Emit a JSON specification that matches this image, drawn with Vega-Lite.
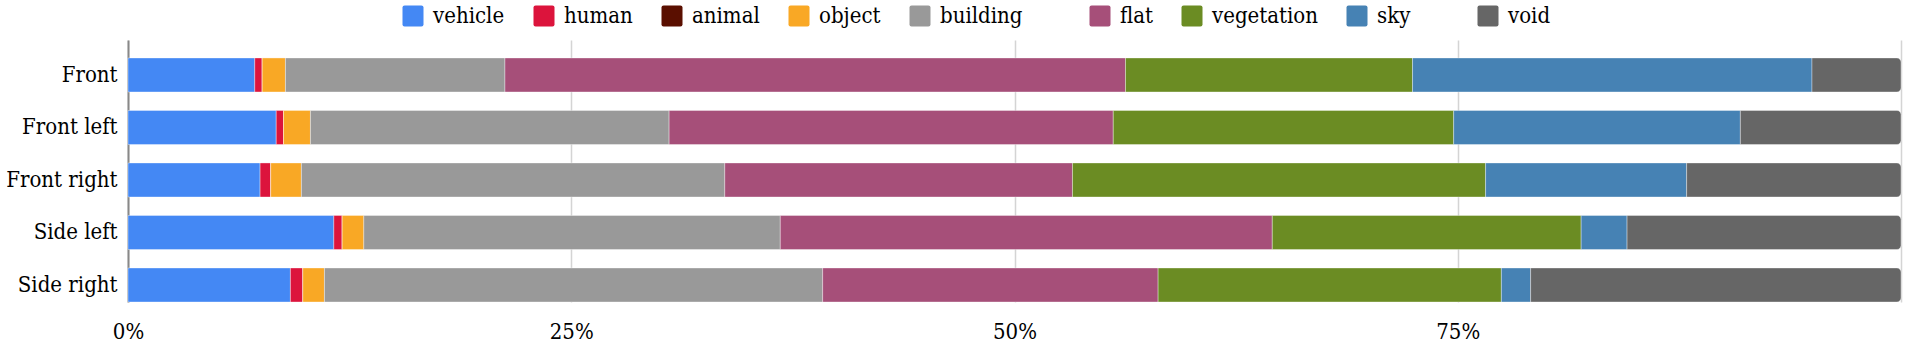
{
  "$schema": "https://vega.github.io/schema/vega-lite/v6.json",
  "width": 1773,
  "height": 262,
  "autosize": {"type": "none"},
  "padding": {"left": 128, "top": 40, "right": 4, "bottom": 41},
  "background": "white",
  "config": {
    "font": "DejaVu Serif Condensed, DejaVu Serif",
    "view": {"stroke": null},
    "axis": {"labelFont": "DejaVu Serif Condensed, DejaVu Serif", "labelFontSize": 22, "labelColor": "#000000"},
    "legend": {"labelFont": "DejaVu Serif Condensed, DejaVu Serif", "labelFontSize": 22, "labelColor": "#000000"}
  },
  "data": {
    "values": [
      {"view": "Front", "class": "vehicle", "value": 7.15},
      {"view": "Front", "class": "human", "value": 0.42},
      {"view": "Front", "class": "animal", "value": 0},
      {"view": "Front", "class": "object", "value": 1.31},
      {"view": "Front", "class": "building", "value": 12.38},
      {"view": "Front", "class": "flat", "value": 35.0},
      {"view": "Front", "class": "vegetation", "value": 16.19},
      {"view": "Front", "class": "sky", "value": 22.53},
      {"view": "Front", "class": "void", "value": 5.02},
      {"view": "Front left", "class": "vehicle", "value": 8.36},
      {"view": "Front left", "class": "human", "value": 0.41},
      {"view": "Front left", "class": "animal", "value": 0},
      {"view": "Front left", "class": "object", "value": 1.52},
      {"view": "Front left", "class": "building", "value": 20.23},
      {"view": "Front left", "class": "flat", "value": 25.05},
      {"view": "Front left", "class": "vegetation", "value": 19.2},
      {"view": "Front left", "class": "sky", "value": 16.17},
      {"view": "Front left", "class": "void", "value": 9.06},
      {"view": "Front right", "class": "vehicle", "value": 7.45},
      {"view": "Front right", "class": "human", "value": 0.6},
      {"view": "Front right", "class": "animal", "value": 0},
      {"view": "Front right", "class": "object", "value": 1.73},
      {"view": "Front right", "class": "building", "value": 23.88},
      {"view": "Front right", "class": "flat", "value": 19.61},
      {"view": "Front right", "class": "vegetation", "value": 23.3},
      {"view": "Front right", "class": "sky", "value": 11.34},
      {"view": "Front right", "class": "void", "value": 12.09},
      {"view": "Side left", "class": "vehicle", "value": 11.61},
      {"view": "Side left", "class": "human", "value": 0.47},
      {"view": "Side left", "class": "animal", "value": 0},
      {"view": "Side left", "class": "object", "value": 1.22},
      {"view": "Side left", "class": "building", "value": 23.49},
      {"view": "Side left", "class": "flat", "value": 27.75},
      {"view": "Side left", "class": "vegetation", "value": 17.42},
      {"view": "Side left", "class": "sky", "value": 2.59},
      {"view": "Side left", "class": "void", "value": 15.45},
      {"view": "Side right", "class": "vehicle", "value": 9.16},
      {"view": "Side right", "class": "human", "value": 0.7},
      {"view": "Side right", "class": "animal", "value": 0},
      {"view": "Side right", "class": "object", "value": 1.22},
      {"view": "Side right", "class": "building", "value": 28.1},
      {"view": "Side right", "class": "flat", "value": 18.92},
      {"view": "Side right", "class": "vegetation", "value": 19.36},
      {"view": "Side right", "class": "sky", "value": 1.65},
      {"view": "Side right", "class": "void", "value": 20.89}
    ]
  },
  "transform": [
    {"calculate": "indexof(['vehicle','human','animal','object','building','flat','vegetation','sky','void'], datum['class'])", "as": "ord"},
    {"stack": "value", "groupby": ["view"], "sort": [{"field": "ord", "order": "ascending"}], "as": ["x0", "x1"]}
  ],
  "encoding": {
    "y": {
      "field": "view",
      "type": "nominal",
      "sort": ["Front", "Front left", "Front right", "Side left", "Side right"],
      "scale": {"paddingInner": 0.352, "paddingOuter": 0.171, "align": 1},
      "axis": {
        "title": null,
        "ticks": false,
        "tickSize": 0,
        "labelPadding": 11,
        "labelBaseline": "alphabetic",
        "labelOffset": 7,
        "labelLimit": 200,
        "domainColor": "#888888",
        "domainWidth": 2,
        "grid": false
      }
    },
    "x": {
      "field": "x0",
      "type": "quantitative",
      "scale": {"domain": [0, 100], "nice": false},
      "axis": {
        "title": null,
        "values": [0, 25, 50, 75, 100],
        "labelExpr": "datum.value == 100 ? '' : datum.value + '%'",
        "domain": false,
        "ticks": false,
        "tickSize": 0,
        "labelPadding": 36,
        "labelBaseline": "alphabetic",
        "labelFlush": false,
        "grid": true,
        "gridColor": "#d4d4d4",
        "gridWidth": 1.5
      }
    },
    "x2": {"field": "x1"},
    "color": {
      "field": "class",
      "type": "nominal",
      "scale": {
        "domain": ["vehicle", "human", "animal", "object", "building", "flat", "vegetation", "sky", "void"],
        "range": ["#4488f4", "#dc143c", "#5a0f00", "#f9a825", "#999999", "#a64f79", "#6b8c23", "#4682b4", "#666666"]
      },
      "legend": {
        "title": null,
        "orient": "none",
        "direction": "horizontal",
        "legendX": 274,
        "legendY": -35,
        "padding": 0,
        "symbolType": "M-0.8,-1H0.8Q1,-1,1,-0.8V0.8Q1,1,0.8,1H-0.8Q-1,1,-1,0.8V-0.8Q-1,-1,-0.8,-1Z",
        "symbolSize": 441,
        "symbolStrokeWidth": 0,
        "symbolOpacity": 1,
        "labelOffset": 9,
        "columnPadding": 28,
        "labelExpr": "datum.label == 'building' ? 'building\u00a0\u00a0\u00a0\u00a0\u00a0\u00a0\u200b' : datum.label == 'sky' ? 'sky\u00a0\u00a0\u00a0\u00a0\u00a0\u00a0\u200b' : datum.label"
      }
    }
  },
  "layer": [
    {
      "transform": [{"filter": "datum['class'] != 'void'"}],
      "mark": {"type": "bar", "stroke": "#ffffff", "strokeWidth": 0.8, "strokeOpacity": 0.45}
    },
    {
      "transform": [{"filter": "datum['class'] == 'void'"}],
      "mark": {"type": "bar", "stroke": "#ffffff", "strokeWidth": 0.8, "strokeOpacity": 0.45, "cornerRadiusTopRight": 4, "cornerRadiusBottomRight": 4}
    }
  ]
}
